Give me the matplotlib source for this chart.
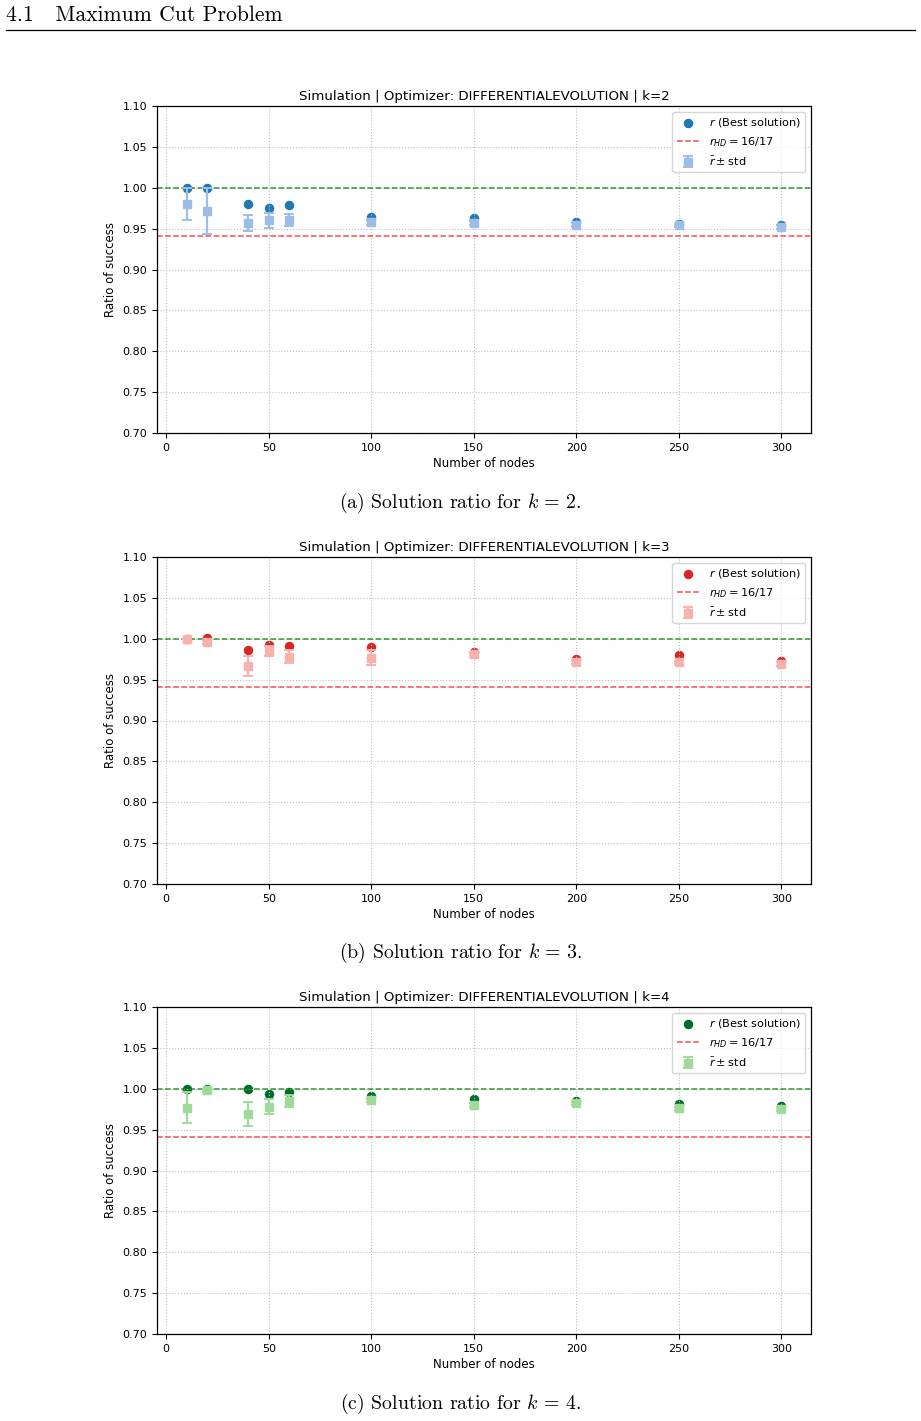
import matplotlib
matplotlib.use("Agg")
import matplotlib.pyplot as plt
from matplotlib.lines import Line2D

plt.rcParams['mathtext.fontset'] = 'dejavusans'

nodes = [10, 20, 40, 50, 60, 100, 150, 200, 250, 300]

# k=2
best_k2 = [1.000, 1.000, 0.980, 0.975, 0.979, 0.964, 0.963, 0.958, 0.956, 0.955]
mean_k2 = [0.980, 0.972, 0.957, 0.960, 0.961, 0.958, 0.957, 0.955, 0.954, 0.952]
std_k2 = [0.020, 0.028, 0.010, 0.0095, 0.0075, 0.003, 0.002, 0.002, 0.002, 0.002]

# k=3
best_k3 = [1.000, 1.001, 0.986, 0.992, 0.991, 0.990, 0.984, 0.975, 0.980, 0.973]
mean_k3 = [1.000, 0.996, 0.967, 0.985, 0.978, 0.977, 0.981, 0.971, 0.971, 0.969]
std_k3 = [0.000, 0.003, 0.012, 0.006, 0.008, 0.009, 0.002, 0.002, 0.002, 0.002]

# k=4
best_k4 = [1.000, 1.000, 1.000, 0.993, 0.996, 0.991, 0.987, 0.985, 0.981, 0.979]
mean_k4 = [0.977, 0.998, 0.969, 0.978, 0.985, 0.986, 0.980, 0.982, 0.976, 0.975]
std_k4 = [0.019, 0.002, 0.015, 0.009, 0.007, 0.002, 0.002, 0.002, 0.002, 0.002]

panels = [
    (2, best_k2, mean_k2, std_k2, '#1f77b4', '#9ebde6', 433, r'(a) Solution ratio for $k\,=\,2$.', 503),
    (3, best_k3, mean_k3, std_k3, '#d62728', '#f7b2ae', 884, r'(b) Solution ratio for $k\,=\,3$.', 953),
    (4, best_k4, mean_k4, std_k4, '#006d2c', '#a1d99b', 1334, r'(c) Solution ratio for $k\,=\,4$.', 1404),
]

W, H = 921, 1421
fig = plt.figure(figsize=(W / 100, H / 100), dpi=100)

# page header
fig.text(6 / W, 1 - 15 / H, '4.1   Maximum Cut Problem', family='cmr10', fontsize=15.6,
         va='center', ha='left')
fig.add_artist(Line2D([6 / W, 915 / W], [1 - 30 / H, 1 - 30 / H], color='black', lw=0.9))

for k, best, mean, std, dark, light, bottom_px, caption, cap_y in panels:
    ax = fig.add_axes([157 / W, 1 - bottom_px / H, 654 / W, 327 / H])
    ax.scatter(nodes, best, s=34, color=dark, label=r'$r$ (Best solution)', zorder=1)
    ax.axhline(16 / 17, color='red', ls='--', lw=1.1, alpha=0.7, label=r'$r_{HD} = 16/17$')
    ax.axhline(1.0, color='green', ls='--', lw=1.1, alpha=0.8)
    ax.errorbar(nodes, mean, yerr=std, fmt='s', color=light, ms=6, capsize=3.5,
                elinewidth=1.6, capthick=1.4, label=r'$\bar{r} \pm \mathrm{std}$')
    ax.set_ylim(0.70, 1.10)
    ax.set_yticks([0.70, 0.75, 0.80, 0.85, 0.90, 0.95, 1.00, 1.05, 1.10])
    ax.set_xticks([0, 50, 100, 150, 200, 250, 300])
    ax.grid(True, ls=':', color='#c0c0c0', lw=0.8)
    ax.tick_params(labelsize=8)
    ax.set_xlabel('Number of nodes', fontsize=8.5, labelpad=3)
    ax.set_ylabel('Ratio of success', fontsize=8.5, labelpad=4)
    ax.set_title(f'Simulation | Optimizer: DIFFERENTIALEVOLUTION | k={k}', fontsize=9.6, pad=4)
    ax.legend(loc='upper right', fontsize=8.2, framealpha=0.8)
    fig.text(0.5, 1 - cap_y / H, caption, family='cmr10', math_fontfamily='cm',
             fontsize=14.3, ha='center', va='center')
    for s in ax.spines.values():
        s.set_linewidth(0.9)

fig.savefig('out.png', dpi=100)
